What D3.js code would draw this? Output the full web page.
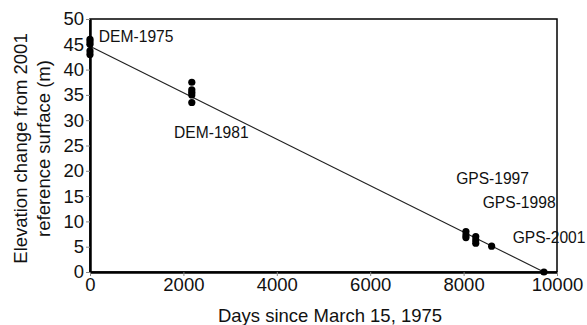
<!DOCTYPE html>
<html>
<head>
<meta charset="utf-8">
<script src="https://cdn.jsdelivr.net/npm/d3@7"></script>
<style>
  body { margin: 0; background: #fff; }
  text { font-family: "Liberation Sans", Arial, sans-serif; fill: #111; }
</style>
</head>
<body>
<div id="chart"></div>
<script>
// survey epochs: days since March 15, 1975 and elevation change (m)
const demDays1975 = [0, 0, 0, 0, 0];
const demElev1975 = [46, 45.5, 45, 43.7, 43];
const demDays1981 = [2180, 2180, 2180, 2180, 2180];
const demElev1981 = [37.5, 36, 35.5, 35, 33.5];
const gpsDays = [8050, 8050, 8050, 8260, 8260, 8260, 8600, 9720];
const gpsElev = [8, 7.3, 6.8, 7, 6.3, 5.7, 5.1, 0];
const fitDays = [0, 9720];
const fitElev = [44.6, 0];

const labels = ["DEM-1975", "DEM-1981", "GPS-1997", "GPS-1998", "GPS-2001"];
const xTicks = [0, 2000, 4000, 6000, 8000, 10000];
const yTicks = [0, 5, 10, 15, 20, 25, 30, 35, 40, 45, 50];

const width = 587, height = 325;
const margin = {top: 19, right: 30, bottom: 53, left: 90};

const svg = d3.select("#chart").append("svg")
    .attr("width", width)
    .attr("height", height);

const x = d3.scaleLinear().domain([0, 10000]).range([margin.left, width - margin.right]);
const y = d3.scaleLinear().domain([0, 50]).range([height - margin.bottom, margin.top]);

// frame
svg.append("rect")
    .attr("x", x(0)).attr("y", y(50))
    .attr("width", x(10000) - x(0)).attr("height", y(0) - y(50))
    .attr("fill", "none").attr("stroke", "#000").attr("stroke-width", 1.5);

const xAxis = svg.append("g")
    .attr("transform", "translate(0," + y(0) + ")")
    .call(d3.axisBottom(x).tickValues(xTicks).tickFormat(d3.format("d"))
      .tickSize(4).tickSizeOuter(0).tickPadding(1));
const yAxis = svg.append("g")
    .attr("transform", "translate(" + x(0) + ",0)")
    .call(d3.axisLeft(y).tickValues(yTicks).tickSize(4).tickSizeOuter(0).tickPadding(2));

[xAxis, yAxis].forEach(function(a) {
  a.select(".domain").attr("stroke", "#000").attr("stroke-width", 2.5);
  a.selectAll(".tick line").attr("stroke", "#888");
  a.selectAll(".tick text").style("font-size", "18.5px").attr("fill", "#111");
});
xAxis.selectAll(".tick text").attr("dy", "0.78em");

// regression line
const line = d3.line().x(function(d) { return x(d[0]); }).y(function(d) { return y(d[1]); });
svg.append("path")
    .datum(d3.zip(fitDays, fitElev))
    .attr("d", line)
    .attr("fill", "none").attr("stroke", "#222").attr("stroke-width", 1.2);

const pts = d3.zip(demDays1975.concat(demDays1981, gpsDays), demElev1975.concat(demElev1981, gpsElev));
svg.selectAll("circle.pt")
    .data(pts)
  .enter().append("circle")
    .attr("class", "pt")
    .attr("cx", function(d) { return x(d[0]); })
    .attr("cy", function(d) { return y(d[1]); })
    .attr("r", 3.6)
    .attr("fill", "#000");

// epoch labels, anchored in data space
const labelAt = [[190, 46.5], [1800, 27.5], [7840, 18.5], [8410, 13.8], [9050, 6.8]];
svg.selectAll("text.lab")
    .data(labels)
  .enter().append("text")
    .attr("class", "lab")
    .attr("x", function(d, i) { return x(labelAt[i][0]); })
    .attr("y", function(d, i) { return y(labelAt[i][1]); })
    .attr("dy", "0.35em")
    .style("font-size", "15.6px")
    .text(function(d) { return d; });

svg.append("text")
    .attr("x", 330)
    .attr("y", 322)
    .attr("text-anchor", "middle")
    .style("font-size", "18.5px")
    .text("Days since March 15, 1975");

const yl = svg.append("text")
    .attr("transform", "translate(27," + (y(25) + 3) + ") rotate(-90)")
    .attr("text-anchor", "middle")
    .style("font-size", "18.5px");
yl.append("tspan").attr("x", 0).attr("dy", 0).text("Elevation change from 2001");
yl.append("tspan").attr("x", 0).attr("dy", 23).text("reference surface (m)");
</script>
</body>
</html>
